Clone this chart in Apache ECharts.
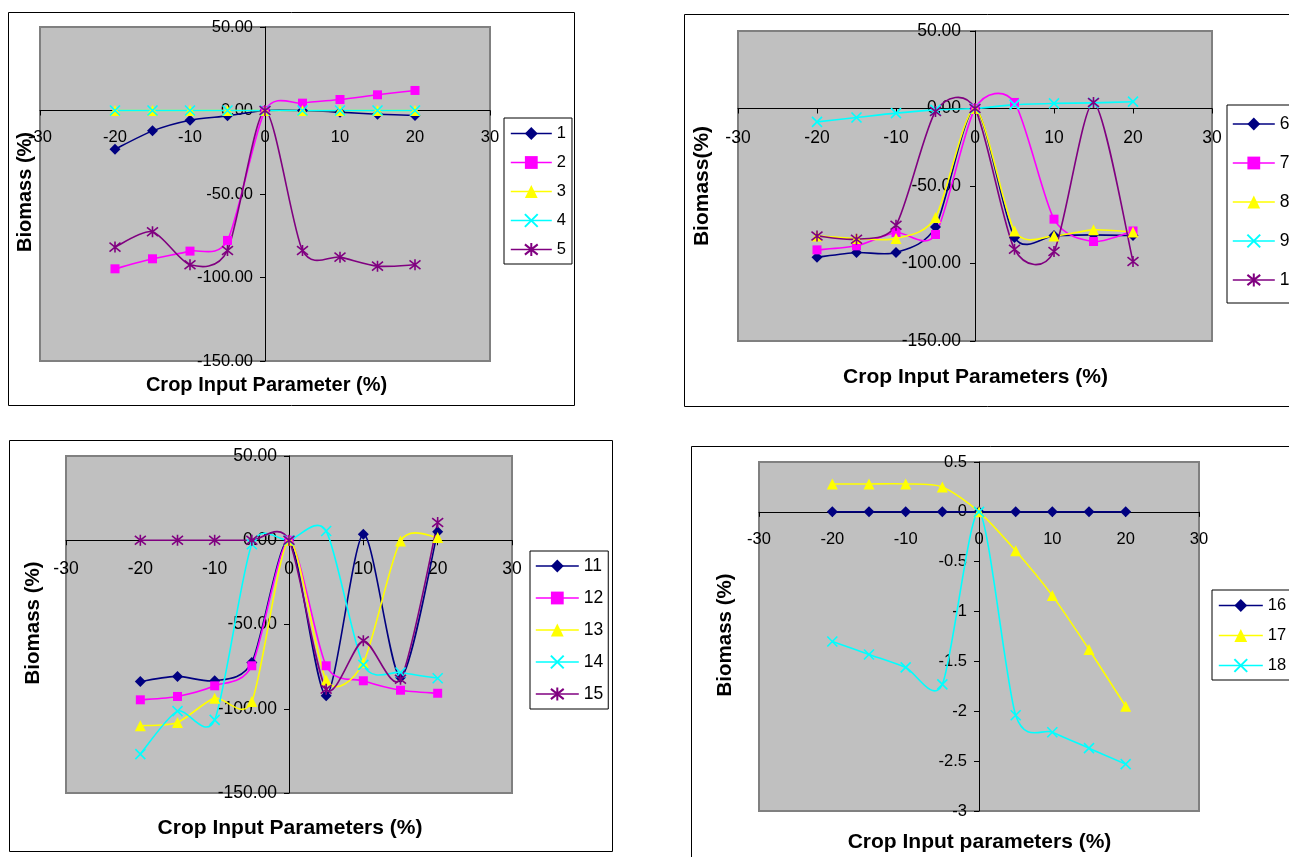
<!DOCTYPE html>
<html><head><meta charset="utf-8">
<script src="https://cdn.jsdelivr.net/npm/echarts@6/dist/echarts.min.js"></script>
<style>html,body{margin:0;padding:0;background:#fff;}#c{width:1289px;height:857px;}</style>
</head><body><div id="c"></div>
<script>
// ---- data ----
const xValues = [-20, -15, -10, -5, 0, 5, 10, 15, 20];
const xTickMin = -30, xTickMax = 30, xTickStep = 10;

// Panel 1
const s1 = [-23.2, -12.2, -5.8, -3.2, 0, 0, -1.0, -2.2, -3.0];
const s2 = [-94.8, -88.8, -84.2, -77.8, 0, 4.4, 6.6, 9.4, 12.0];
const s3 = [0, 0, 0, 0, 0, 0, 0, 0, 0];
const s4 = [0, 0, 0, 0, 0, 0, 0, 0, 0];
const s5 = [-81.8, -72.6, -92.4, -83.8, 0, -83.8, -87.8, -93.2, -92.4];
// Panel 2
const s6 = [-96.0, -92.9, -92.9, -76.4, 0, -83.2, -82.0, -81.5, -82.0];
const s7 = [-91.2, -88.6, -80.0, -81.3, 0, 3.9, -71.4, -85.8, -79.0];
const s8 = [-82.2, -83.9, -83.9, -70.3, 0, -79.0, -82.2, -78.3, -79.7];
const s9 = [-8.6, -5.8, -3.0, -0.9, 0, 2.5, 3.3, 3.6, 4.4];
const s10 = [-82.2, -84.3, -75.3, -1.9, 0, -90.8, -92.3, 3.9, -98.7];
// Panel 3
const s11 = [-83.8, -80.8, -83.4, -72.5, 0, -92.3, 3.6, -81.5, 5.1];
const s12 = [-94.7, -92.7, -86.4, -74.5, 0, -74.5, -83.4, -89.0, -90.8];
const s13 = [-110.1, -108.1, -93.7, -95.7, 0, -82.9, -72.6, -0.4, 1.6];
const s14 = [-126.9, -101.4, -106.6, -2.4, 0, 5.5, -74.0, -78.5, -81.9];
const s15 = [0, 0, 0, 0, 0, -88.4, -59.7, -82.5, 10.5];
// Panel 4
const s16 = [0, 0, 0, 0, 0, 0, 0, 0, 0];
const s17 = [0.28, 0.28, 0.28, 0.25, 0, -0.39, -0.84, -1.38, -1.95];
const s18 = [-1.30, -1.43, -1.56, -1.73, 0, -2.04, -2.21, -2.37, -2.53];

const names1 = ['1', '2', '3', '4', '5'];
const names2 = ['6', '7', '8', '9', '10'];
const names3 = ['11', '12', '13', '14', '15'];
const names4 = ['16', '17', '18'];

const xTitles = ['Crop Input Parameter (%)', 'Crop Input Parameters (%)', 'Crop Input Parameters (%)', 'Crop Input parameters (%)'];
const yTitles = ['Biomass (%)', 'Biomass(%)', 'Biomass (%)', 'Biomass (%)'];

// ---- styles ----
const FONT = '"Liberation Sans", Arial, sans-serif';
const STY = {
  navy:    {color: '#000080', symbol: 'diamond', size: 11, stroke: false},
  magenta: {color: '#FF00FF', symbol: 'rect', size: 9, stroke: false},
  yellow:  {color: '#FFFF00', symbol: 'triangle', size: 11, stroke: false},
  cyan:    {color: '#00FFFF', symbol: 'path://M0,0L10,10M0,10L10,0', size: 10, stroke: true},
  purple:  {color: '#800080', symbol: 'path://M5,0L5,10M0,1L10,9M0,9L10,1', size: 11, stroke: true}
};

const panels = [
  {grid: {left: 40, top: 27, width: 450, height: 334}, yMin: -150, yMax: 50, yStep: 50, dec: 2, fs: 16.5, xm: 18, ym: 12,
   names: names1, vals: [s1, s2, s3, s4, s5], sty: ['navy', 'magenta', 'yellow', 'cyan', 'purple'],
   legend: {left: 504, top: 118, padding: [7, 6, 6, 6], itemGap: 12, itemWidth: 41},
   frame: {x: 8.5, y: 12.5, w: 566, h: 393},
   yt: {x: 25.5, y: 192, fs: 20}, xt: {x: 266.5, y: 385, fs: 20}},
  {grid: {left: 738, top: 31, width: 474, height: 310}, yMin: -150, yMax: 50, yStep: 50, dec: 2, fs: 17.5, xm: 21, ym: 14,
   names: names2, vals: [s6, s7, s8, s9, s10], sty: ['navy', 'magenta', 'yellow', 'cyan', 'purple'],
   legend: {left: 1227, top: 105, padding: [10, 6, 14, 5], itemGap: 21, itemWidth: 42},
   frame: {x: 684.5, y: 14.5, w: 700, h: 392},
   yt: {x: 702.5, y: 186, fs: 21}, xt: {x: 975.5, y: 377.5, fs: 21}},
  {grid: {left: 66, top: 456, width: 446, height: 337}, yMin: -150, yMax: 50, yStep: 50, dec: 2, fs: 17.5, xm: 20, ym: 12,
   names: names3, vals: [s11, s12, s13, s14, s15], sty: ['navy', 'magenta', 'yellow', 'cyan', 'purple'],
   legend: {left: 530, top: 551, padding: [6, 5, 6, 5], itemGap: 14, itemWidth: 43},
   frame: {x: 9.5, y: 440.5, w: 603, h: 411},
   yt: {x: 33, y: 623, fs: 20.5}, xt: {x: 290, y: 828, fs: 21}},
  {grid: {left: 759, top: 462, width: 440, height: 349}, yMin: -3, yMax: 0.5, yStep: 0.5, dec: null, fs: 16.5, xm: 19, ym: 12,
   names: names4, vals: [s16, s17, s18], sty: ['navy', 'yellow', 'cyan'],
   legend: {left: 1212, top: 590, padding: [7, 6, 6, 6], itemGap: 13, itemWidth: 44},
   frame: {x: 691.5, y: 446.5, w: 700, h: 500},
   yt: {x: 725, y: 635, fs: 20.5}, xt: {x: 979.5, y: 842, fs: 21}}
];

const T = 0.13; // curve tension (spreadsheet-style smoothing)

function curveSeries(gi, values, color) {
  return {
    type: 'custom', xAxisIndex: gi, yAxisIndex: gi, z: 2, silent: true, animation: false,
    data: [[xValues[0], values[0]]],
    renderItem: function (params, api) {
      const pts = xValues.map((x, i) => api.coord([x, values[i]]));
      let d = 'M' + pts[0][0] + ' ' + pts[0][1];
      const n = pts.length;
      for (let i = 0; i < n - 1; i++) {
        const p0 = pts[Math.max(i - 1, 0)], p1 = pts[i], p2 = pts[i + 1], p3 = pts[Math.min(i + 2, n - 1)];
        const c1x = p1[0] + (p2[0] - p0[0]) * T, c1y = p1[1] + (p2[1] - p0[1]) * T;
        const c2x = p2[0] - (p3[0] - p1[0]) * T, c2y = p2[1] - (p3[1] - p1[1]) * T;
        d += ' C' + [c1x, c1y, c2x, c2y, p2[0], p2[1]].join(' ');
      }
      return {type: 'path', shape: {pathData: d}, style: {fill: 'none', stroke: color, lineWidth: 1.6}};
    }
  };
}

const grids = [], xAxes = [], yAxes = [], legends = [], series = [], graphics = [];
panels.forEach((p, gi) => {
  grids.push(Object.assign({show: true, backgroundColor: '#C0C0C0', borderColor: '#808080', borderWidth: 2,
    containLabel: false, outerBoundsMode: 'none'}, p.grid));
  // place each axis on the other axis's zero, labels included
  const xOff = -p.grid.height * (0 - p.yMin) / (p.yMax - p.yMin);
  const yOff = -p.grid.width * (0 - xTickMin) / (xTickMax - xTickMin);
  xAxes.push({
    gridIndex: gi, type: 'value', min: xTickMin, max: xTickMax, interval: xTickStep,
    position: 'bottom', offset: xOff,
    axisLine: {show: true, onZero: false, lineStyle: {color: '#000', width: 1}},
    axisTick: {show: true, length: 5, lineStyle: {color: '#000'}},
    axisLabel: {show: true, margin: p.xm, fontSize: p.fs, fontFamily: FONT, color: '#000', showMinLabel: true, showMaxLabel: true, hideOverlap: false},
    splitLine: {show: false}
  });
  yAxes.push({
    gridIndex: gi, type: 'value', min: p.yMin, max: p.yMax, interval: p.yStep,
    position: 'left', offset: yOff,
    axisLine: {show: true, onZero: false, lineStyle: {color: '#000', width: 1}},
    axisTick: {show: true, length: 5, lineStyle: {color: '#000'}},
    axisLabel: {show: true, margin: p.ym, fontSize: p.fs, fontFamily: FONT, color: '#000', showMinLabel: true, showMaxLabel: true, hideOverlap: false,
      formatter: p.dec != null ? (v => v.toFixed(p.dec)) : (v => String(v))},
    splitLine: {show: false}
  });
  legends.push({
    data: p.names, orient: 'vertical', left: p.legend.left, top: p.legend.top, padding: p.legend.padding,
    itemGap: p.legend.itemGap, itemWidth: p.legend.itemWidth, itemHeight: 16,
    backgroundColor: '#fff', borderColor: '#000', borderWidth: 1, borderRadius: 0,
    textStyle: {fontFamily: FONT, fontSize: p.fs, color: '#000'},
    lineStyle: {width: 1.6}, selectedMode: false
  });
  p.vals.forEach((vals, k) => {
    const st = STY[p.sty[k]];
    series.push(curveSeries(gi, vals, st.color));
    series.push({
      type: 'line', name: p.names[k], xAxisIndex: gi, yAxisIndex: gi, z: 3,
      data: xValues.map((x, i) => [x, vals[i]]),
      symbol: st.symbol, symbolSize: st.size, showSymbol: true, showAllSymbol: true,
      lineStyle: {width: 0, color: st.color},
      itemStyle: {color: st.color, borderColor: st.color, borderWidth: st.stroke ? 1.6 : 0},
      emphasis: {disabled: true}, animation: false, silent: true
    });
  });
  graphics.push({type: 'rect', silent: true, z: 0,
    shape: {x: p.frame.x, y: p.frame.y, width: p.frame.w, height: p.frame.h},
    style: {fill: 'none', stroke: '#000', lineWidth: 1}});
  graphics.push({type: 'text', silent: true, x: p.yt.x, y: p.yt.y, rotation: Math.PI / 2,
    style: {text: yTitles[gi], fontFamily: FONT, fontWeight: 'bold', fontSize: p.yt.fs, fill: '#000',
      align: 'center', verticalAlign: 'middle', textAlign: 'center', textVerticalAlign: 'middle'}});
  graphics.push({type: 'text', silent: true, x: p.xt.x, y: p.xt.y,
    style: {text: xTitles[gi], fontFamily: FONT, fontWeight: 'bold', fontSize: p.xt.fs, fill: '#000',
      align: 'center', verticalAlign: 'middle', textAlign: 'center', textVerticalAlign: 'middle'}});
});

const chart = echarts.init(document.getElementById('c'), null, {renderer: 'canvas'});
chart.setOption({
  animation: false,
  backgroundColor: '#fff',
  grid: grids, xAxis: xAxes, yAxis: yAxes, legend: legends, series: series, graphic: graphics
});
</script></body></html>
